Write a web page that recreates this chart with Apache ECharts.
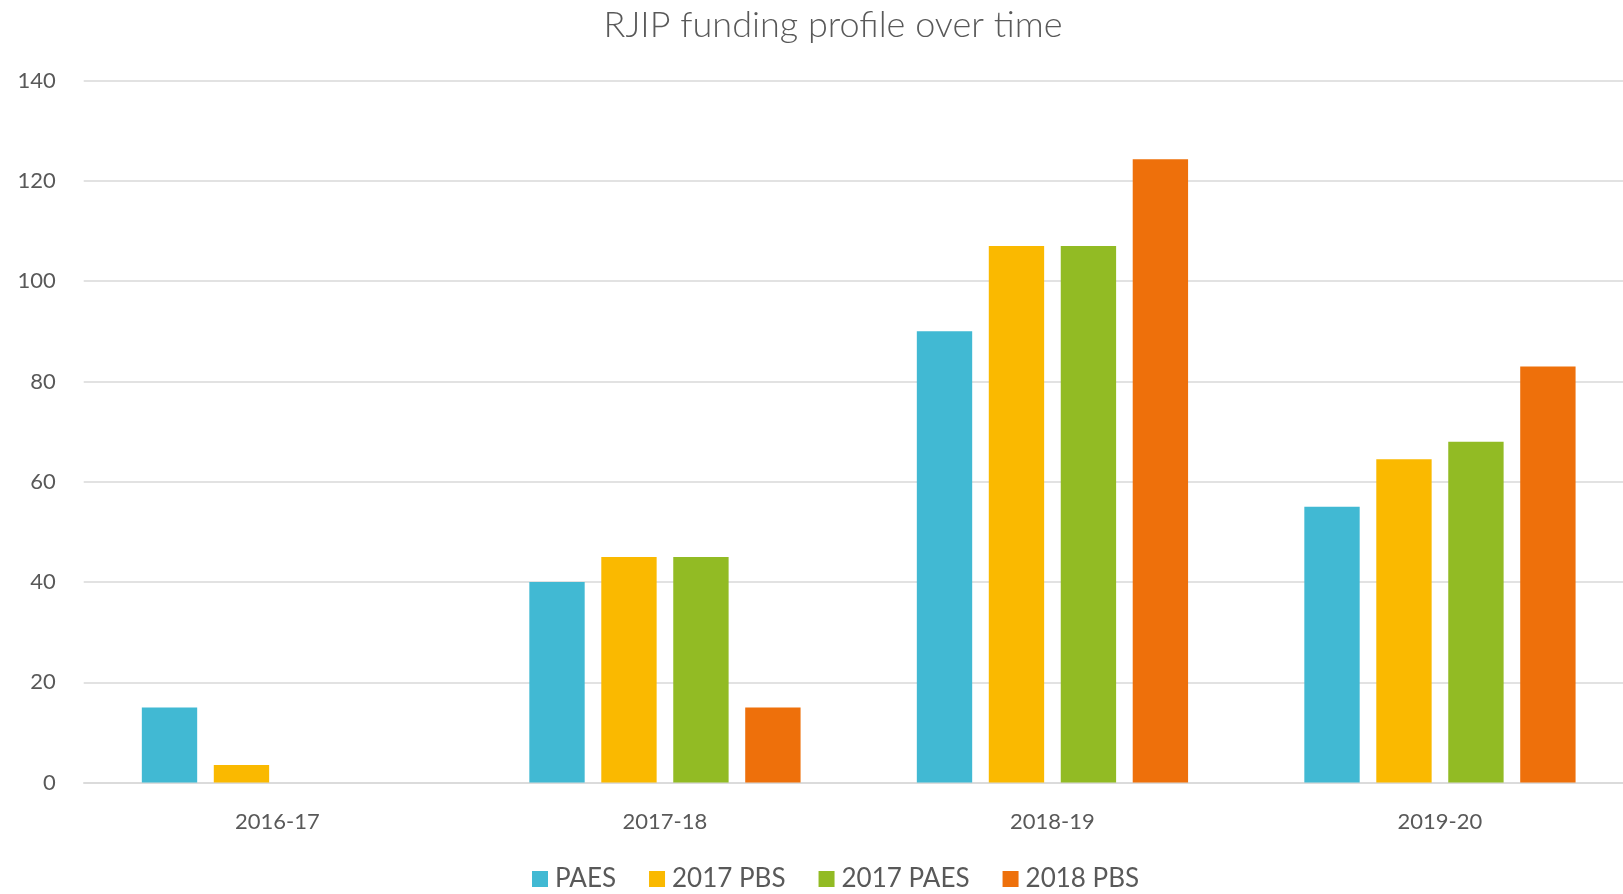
<!DOCTYPE html>
<html>
<head>
<meta charset="utf-8">
<script src="https://cdn.jsdelivr.net/npm/echarts@6/dist/echarts.min.js"></script>
<style>
html,body{margin:0;padding:0;background:#fff;}
#chart{width:1623px;height:894px;}
</style>
</head>
<body>
<div id="chart"></div>
<script>
var categories = ['2016-17', '2017-18', '2018-19', '2019-20'];
var seriesNames = ['PAES', '2017 PBS', '2017 PAES', '2018 PBS'];
var paes = [15, 40, 90, 55];
var pbs2017 = [3.5, 45, 107, 64.5];
var paes2017 = [0, 45, 107, 68];
var pbs2018 = [0, 15, 124.3, 83];
var yTicks = [0, 20, 40, 60, 80, 100, 120, 140];
var colors = ['#41B9D3', '#FAB900', '#92BB24', '#EE700B'];

var values = [paes, pbs2017, paes2017, pbs2018];
var font = 'Lato, "Open Sans", sans-serif';
var chart = echarts.init(document.getElementById('chart'), null, {renderer: 'canvas'});
chart.setOption({
  animation: false,
  color: colors,
  title: {
    text: 'RJIP funding profile over time',
    left: 828, textAlign: 'center', top: 2,
    textStyle: {fontFamily: font, fontWeight: 300, fontSize: 36, color: '#595959'}
  },
  legend: {
    data: seriesNames,
    left: 527, top: 861,
    itemWidth: 16, itemHeight: 16, itemGap: 33,
    icon: 'rect',
    textStyle: {fontFamily: font, fontSize: 26, color: '#595959', padding: [0, 0, 0, 2]}
  },
  grid: {left: 83.7, top: 80.6, width: 1550, height: 702, containLabel: false, outerBoundsMode: 'none'},
  xAxis: {
    type: 'category', data: categories,
    axisLine: {lineStyle: {color: '#D9D9D9', width: 1.5}},
    axisTick: {show: false},
    axisLabel: {fontFamily: font, fontSize: 22, color: '#595959', margin: 28}
  },
  yAxis: {
    type: 'value', min: yTicks[0], max: yTicks[yTicks.length - 1], interval: 20,
    axisLine: {show: false}, axisTick: {show: false},
    splitLine: {lineStyle: {color: '#D9D9D9', width: 1.5}},
    axisLabel: {fontFamily: font, fontSize: 22, color: '#595959', margin: 28}
  },
  series: seriesNames.map(function (n, i) {
    return {
      name: n, type: 'bar', data: values[i],
      barCategoryGap: '30%', barGap: '30%',
      itemStyle: {color: colors[i]}
    };
  })
});
</script>
</body>
</html>
